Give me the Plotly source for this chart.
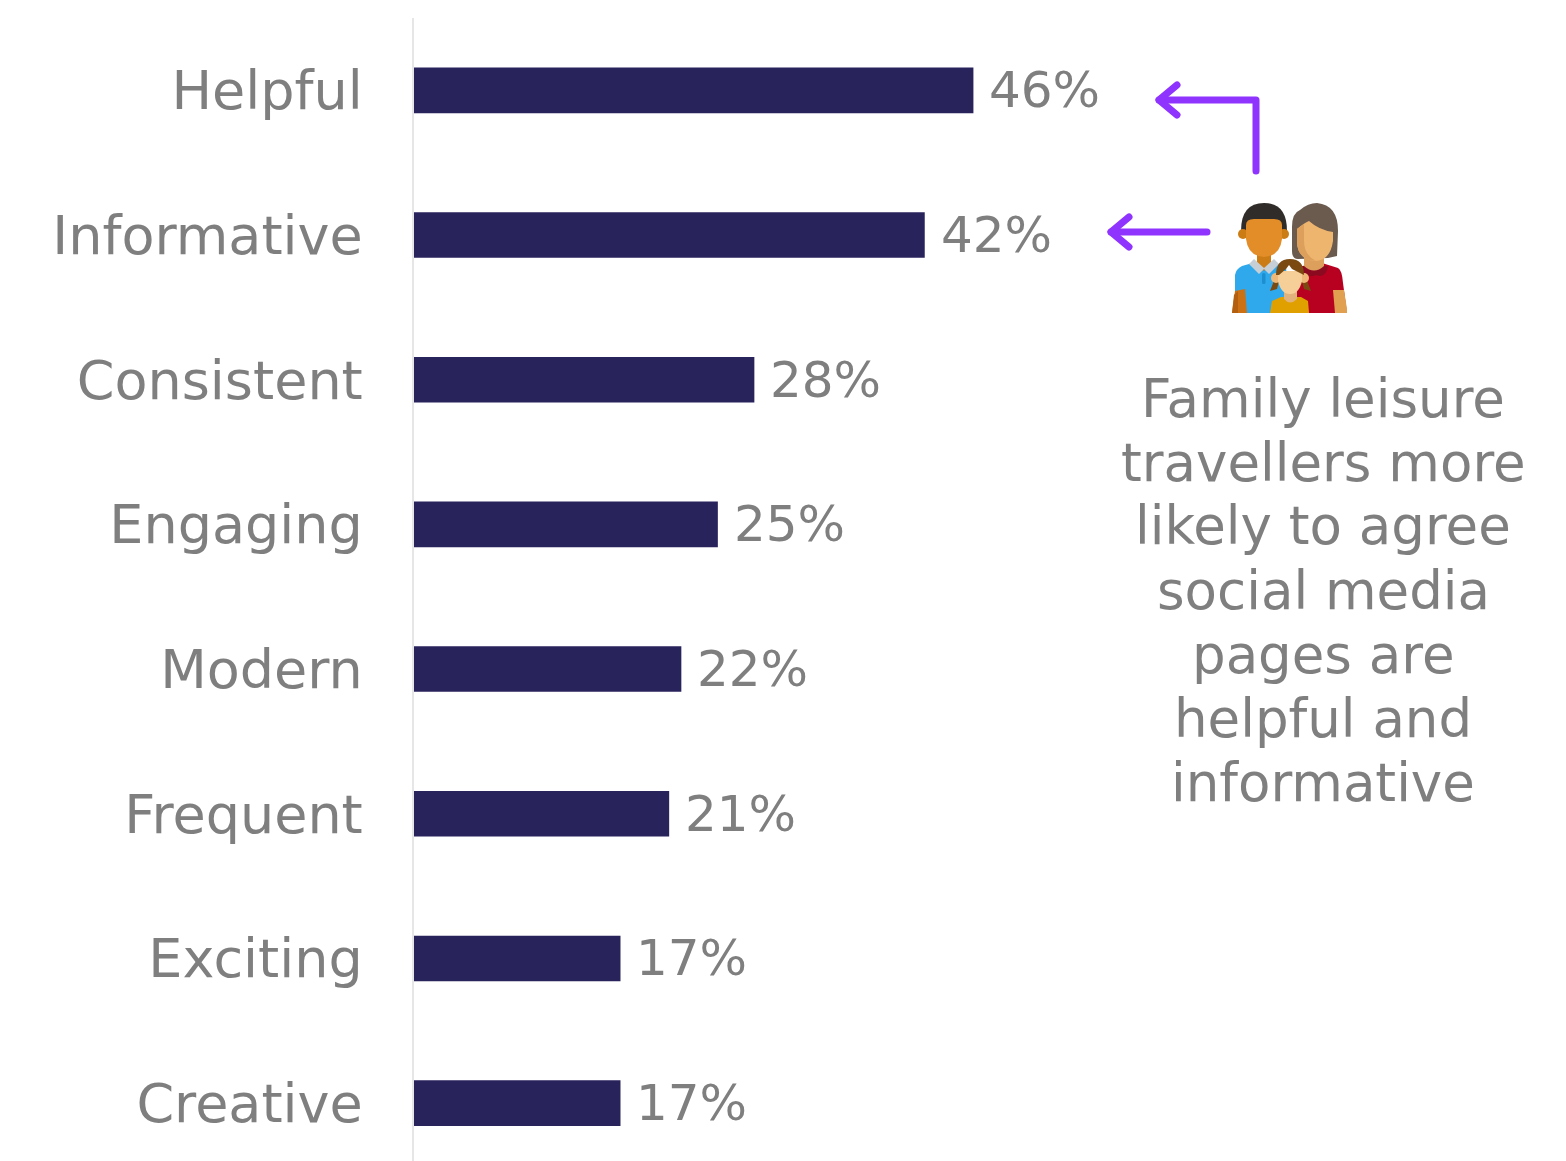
import base64
import plotly.graph_objects as go

categories = ["Helpful", "Informative", "Consistent", "Engaging", "Modern", "Frequent", "Exciting", "Creative"]
values = [46, 42, 28, 25, 22, 21, 17, 17]
note_lines = ["Family leisure", "travellers more", "likely to agree", "social media", "pages are", "helpful and", "informative"]

W, H = 1566, 1161
FONT = "DejaVu Sans"
GREY = "#7f7f7f"
NAVY = "#29235c"


def fx(px):
    return px / W


def fy(py):
    return 1 - py / H


def svg_uri(svg):
    return "data:image/svg+xml;base64," + base64.b64encode(svg.encode()).decode()


# Family pictogram, drawn in its own 115 x 110 pixel box
FAMILY_SVG = """<svg xmlns='http://www.w3.org/2000/svg' width='115' height='110' viewBox='0 0 115 110'>
<!-- woman -->
<path d='M64 110 L64 66 L78 60 L90 60 L106 65 Q110 67 111 80 L115 110 Z' fill='#b80020'/>
<path d='M101 87 L112 87 L115 106 L115 110 L103 110 Z' fill='#e0a050'/>
<path d='M68 63 L96 63 Q94 76 84 72 Q74 77 68 63 Z' fill='#8c0a20'/>
<path d='M60 48 L60 24 Q60 10 68 7 Q76 0 85 0 Q106 2 106 28 L105 53 L96 55 L66 56 Q60 56 60 48 Z' fill='#6b5a4e'/>
<path d='M72 50 L92 50 L92 63 Q82 72 72 63 Z' fill='#dca05c'/>
<path d='M65 26 Q72 20 77 18 Q87 27 101 29 L101 38 Q98 58 83 58 Q65 56 65 38 Z' fill='#eeb56f'/>
<path d='M65 26 L72 21 L72 38 Q72 52 84 58 Q65 57 65 38 Z' fill='#dca05c'/>
<!-- man -->
<path d='M3 110 L3 72 Q4 66 10 63 L24 59 L42 59 L54 64 L58 110 Z' fill='#2fa8ec'/>
<path d='M3 88 L13 86 L15 110 L0 110 Z' fill='#cc7014'/>
<path d='M0 110 L2 92 L6 88 L6 110 Z' fill='#b35f0e'/>
<path d='M25 48 L39 48 L39 62 L32 68 L25 62 Z' fill='#cc7c14'/>
<path d='M22 56 L32 65 L42 56 L47 61 L37 71 L32 66 L27 71 L17 61 Z' fill='#c6ced6'/>
<rect x='30' y='70' width='3.5' height='11' rx='1.5' fill='#1d8fd0'/>
<path d='M9 28 Q9 0 32 0 Q55 0 55 28 L48 30 L16 30 Z' fill='#302c2a'/>
<circle cx='11' cy='31' r='5' fill='#cc7c14'/><circle cx='52' cy='31' r='5' fill='#cc7c14'/>
<path d='M14 22 Q14 16 22 16 L42 16 Q50 16 50 22 L50 36 Q48 53 32 54 Q16 53 14 36 Z' fill='#e28d27'/>
<!-- girl -->
<path d='M38 110 L40 98 L49 94 L69 94 L76 98 L77 110 Z' fill='#e0a100'/>
<path d='M52 86 L65 86 L65 96 Q58 103 52 96 Z' fill='#e2b27c'/>
<path d='M38 88 L43 75 L47 78 L45 86 Z' fill='#7a4a10'/>
<path d='M79 88 L74 75 L70 78 L72 86 Z' fill='#7a4a10'/>
<circle cx='44' cy='75' r='5' fill='#eeb878'/><circle cx='72' cy='75' r='5' fill='#eeb878'/>
<path d='M46 68 L70 68 L70 78 Q67 91 58 91 Q49 91 46 78 Z' fill='#f6cf98'/>
<path d='M44 72 Q44 56 58 56 Q72 56 72 72 L60 66 L57 62 L54 66 L47 72 Z' fill='#7a4a10'/>
</svg>"""

# Two call-out arrows in a 170 x 200 pixel box whose origin is at (1100, 60)
ARROWS_SVG = """<svg xmlns='http://www.w3.org/2000/svg' width='170' height='200' viewBox='0 0 170 200'>
<g fill='none' stroke='#8f33ff' stroke-width='7' stroke-linecap='round' stroke-linejoin='round'>
<path d='M156 111 L156 40 L59 40'/>
<path d='M77 25 L59 40 L77 55'/>
<path d='M107 172 L11 172'/>
<path d='M29 157 L11 172 L29 187'/>
</g></svg>"""

# Horizontal scale: 12.17 px per percentage point, starting at the bar baseline
x_left = 413.6
x_max = (W - x_left) / 12.17

fig = go.Figure(
    go.Bar(
        x=values,
        y=categories,
        orientation="h",
        marker=dict(color=NAVY, line=dict(width=0)),
        width=0.315,
        hoverinfo="skip",
    )
)

# Percentage labels sit just past each bar end
annotations = [
    dict(
        x=v, y=c, xref="x", yref="y", text=f"{v}%", showarrow=False,
        xanchor="left", yanchor="middle", xshift=14,
        font=dict(family=FONT, size=50, color=GREY),
    )
    for c, v in zip(categories, values)
]

# Call-out text, one annotation per line for exact leading
for i, line in enumerate(note_lines):
    annotations.append(
        dict(
            x=fx(1323), y=fy(398 + i * 64), xref="paper", yref="paper",
            text=line, showarrow=False, xanchor="center", yanchor="middle",
            font=dict(family=FONT, size=53, color=GREY),
        )
    )

fig.update_layout(
    width=W, height=H, autosize=False,
    margin=dict(l=0, r=0, t=0, b=0),
    paper_bgcolor="white", plot_bgcolor="white",
    showlegend=False,
    annotations=annotations,
    images=[
        dict(source=svg_uri(FAMILY_SVG), xref="paper", yref="paper",
             x=fx(1232), y=fy(203), sizex=115 / W, sizey=110 / H,
             xanchor="left", yanchor="top", sizing="stretch", layer="above"),
        dict(source=svg_uri(ARROWS_SVG), xref="paper", yref="paper",
             x=fx(1100), y=fy(60), sizex=170 / W, sizey=200 / H,
             xanchor="left", yanchor="top", sizing="stretch", layer="above"),
    ],
    xaxis=dict(domain=[x_left / W, 1], range=[0, x_max], visible=False, fixedrange=True),
    yaxis=dict(
        domain=[0, 1 - 18 / H],
        range=[7.4, -0.5],
        type="category",
        categoryorder="array", categoryarray=categories,
        showgrid=False, zeroline=False, ticks="",
        showline=True, linecolor="#e6e6e6", linewidth=2,
        ticklabelstandoff=38,
        tickfont=dict(family=FONT, size=54, color=GREY),
        fixedrange=True,
    ),
)

fig.write_html("out.html", config={"displayModeBar": False})
